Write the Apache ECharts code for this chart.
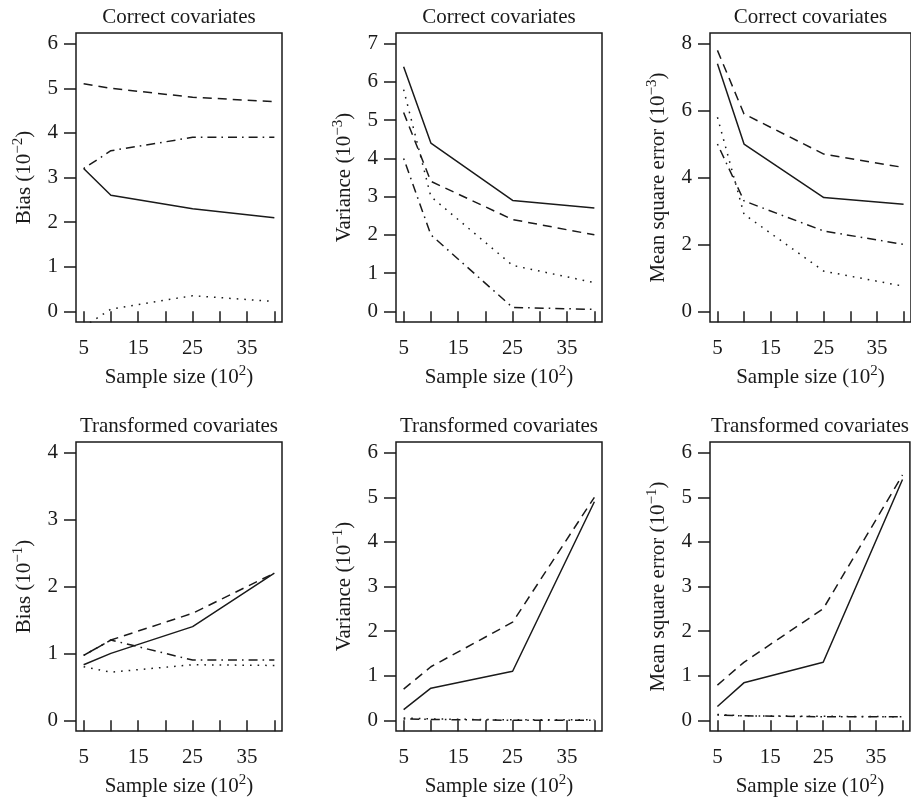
<!DOCTYPE html>
<html>
<head>
<meta charset="utf-8">
<script src="https://cdn.jsdelivr.net/npm/echarts@6/dist/echarts.min.js"></script>
<style>
  html, body { margin: 0; padding: 0; background: #fff; }
  #chart { width: 911px; height: 801px; }
</style>
</head>
<body>
<div id="chart"></div>
<script>
// sample sizes (x 10^2) where each estimator was evaluated
const sampleSizes = [5, 10, 25, 40];
const xTicks = [5, 10, 15, 20, 25, 30, 35, 40];
const xLabels = [5, 15, 25, 35];

// each panel: [solid, dashed, dotted, dot-dash]
const biasCorrect = [
  [3.2, 2.6, 2.3, 2.1],
  [5.1, 5.0, 4.8, 4.7],
  [-0.35, 0.05, 0.35, 0.22],
  [3.2, 3.6, 3.9, 3.9]
];
const varCorrect = [
  [6.4, 4.4, 2.9, 2.7],
  [5.2, 3.4, 2.4, 2.0],
  [5.8, 3.0, 1.2, 0.75],
  [4.0, 2.0, 0.1, 0.05]
];
const mseCorrect = [
  [7.4, 5.0, 3.4, 3.2],
  [7.8, 5.9, 4.7, 4.3],
  [5.8, 2.9, 1.2, 0.75],
  [5.0, 3.3, 2.4, 2.0]
];
const biasTransformed = [
  [0.83, 1.0, 1.4, 2.2],
  [0.97, 1.2, 1.6, 2.2],
  [0.8, 0.72, 0.83, 0.82],
  [0.97, 1.2, 0.9, 0.9]
];
const varTransformed = [
  [0.24, 0.72, 1.1, 4.9],
  [0.7, 1.2, 2.2, 5.0],
  [0.05, 0.03, 0.01, 0.01],
  [0.03, 0.02, 0.0, 0.0]
];
const mseTransformed = [
  [0.31, 0.84, 1.3, 5.4],
  [0.79, 1.3, 2.5, 5.5],
  [0.13, 0.1, 0.09, 0.08],
  [0.12, 0.1, 0.08, 0.08]
];

const yTicks1 = [0, 1, 2, 3, 4, 5, 6];
const yTicks2 = [0, 1, 2, 3, 4, 5, 6, 7];
const yTicks3 = [0, 2, 4, 6, 8];
const yTicks4 = [0, 1, 2, 3, 4];

const FONT = 'Liberation Serif';
const INK = '#1a1a1a';
const lineTypes = ['solid', [9, 6], [1.6, 6], [1.6, 5, 9, 5]];

const panels = [
  { data: biasCorrect, ticks: yTicks1, top: 'Correct covariates', yName: 'Bias (10{s|−2})' },
  { data: varCorrect, ticks: yTicks2, top: 'Correct covariates', yName: 'Variance (10{s|−3})' },
  { data: mseCorrect, ticks: yTicks3, top: 'Correct covariates', yName: 'Mean square error (10{s|−3})' },
  { data: biasTransformed, ticks: yTicks4, top: 'Transformed covariates', yName: 'Bias (10{s|−1})' },
  { data: varTransformed, ticks: yTicks1, top: 'Transformed covariates', yName: 'Variance (10{s|−1})' },
  { data: mseTransformed, ticks: yTicks1, top: 'Transformed covariates', yName: 'Mean square error (10{s|−1})' }
];

const lefts = [76, 396, 710];
const tops = [33, 442];
const W = 206, H = 289;

const textBase = { fontFamily: FONT, fontSize: 21, color: INK };
const rich = { s: { fontFamily: FONT, fontSize: 15, color: INK, padding: [0, 0, 12, 0] } };

const grid = [], xAxis = [], yAxis = [], series = [];

panels.forEach(function (p, i) {
  const col = i % 3, row = Math.floor(i / 3);
  grid.push({
    left: lefts[col], top: tops[row], width: W, height: H,
    show: true, borderColor: INK, borderWidth: 1.5, backgroundColor: 'transparent'
  });
  // R style: extend the range by 4% on each side
  const xr = (40 - 5) * 0.04;
  const ymax = p.ticks[p.ticks.length - 1];
  const yr = ymax * 0.04;
  xAxis.push({
    type: 'value', gridIndex: i, min: 5 - xr, max: 40 + xr,
    axisLine: { show: false },
    splitLine: { show: false },
    axisTick: { show: true, length: 11, customValues: xTicks, lineStyle: { color: INK, width: 1.5 } },
    axisLabel: Object.assign({ customValues: xLabels, margin: 16 }, textBase),
    name: 'Sample size (10{s|2})', nameLocation: 'middle', nameGap: 42,
    nameTextStyle: Object.assign({ rich: rich }, textBase)
  });
  xAxis.push({
    type: 'value', gridIndex: i, position: 'top', min: 5 - xr, max: 40 + xr,
    axisLine: { show: false }, axisTick: { show: false }, axisLabel: { show: false },
    splitLine: { show: false },
    name: p.top, nameLocation: 'middle', nameGap: 5,
    nameTextStyle: textBase
  });
  yAxis.push({
    type: 'value', gridIndex: i, min: -yr, max: ymax + yr,
    axisLine: { show: false },
    splitLine: { show: false },
    axisTick: { show: true, length: 12, customValues: p.ticks, lineStyle: { color: INK, width: 1.5 } },
    axisLabel: Object.assign({ customValues: p.ticks, margin: 18 }, textBase),
    name: p.yName, nameLocation: 'middle', nameGap: 38,
    nameTextStyle: Object.assign({ rich: rich }, textBase)
  });
  p.data.forEach(function (vals, k) {
    series.push({
      type: 'line', xAxisIndex: i * 2, yAxisIndex: i,
      data: sampleSizes.map(function (s, j) { return [s, vals[j]]; }),
      showSymbol: false, symbol: 'none', clip: true, animation: false,
      lineStyle: { color: INK, width: 1.5, type: lineTypes[k] }
    });
  });
});

const chart = echarts.init(document.getElementById('chart'), null, { renderer: 'canvas' });
chart.setOption({
  backgroundColor: '#fff',
  animation: false,
  grid: grid,
  xAxis: xAxis,
  yAxis: yAxis,
  series: series
});
</script>
</body>
</html>
